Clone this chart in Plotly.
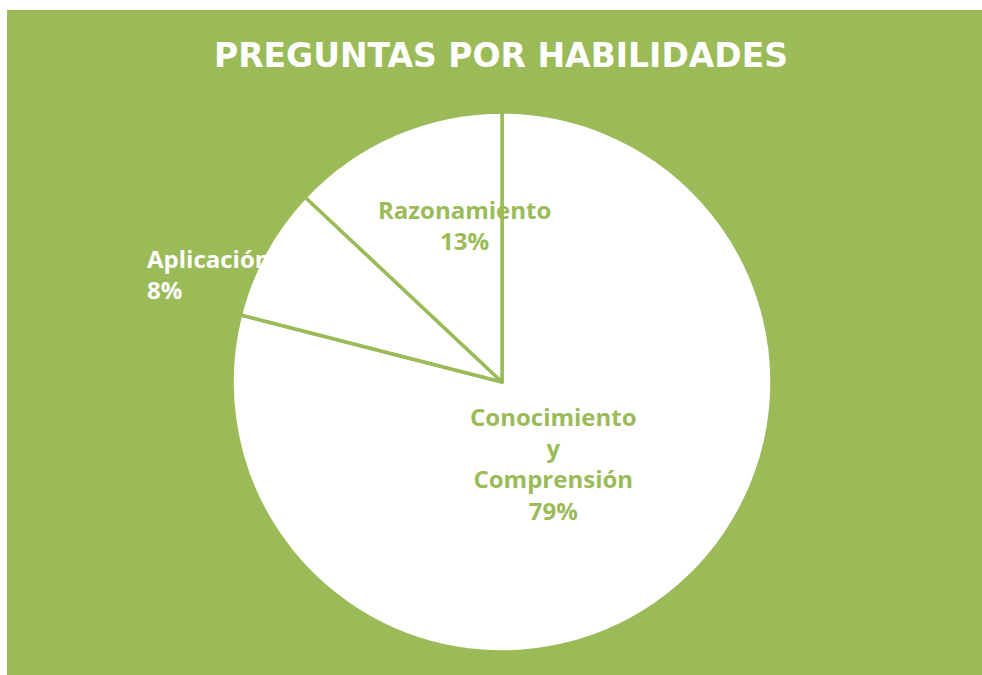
import math
import plotly.graph_objects as go

# ---- data ----
categories = ["Conocimiento<br>y<br>Comprensión", "Aplicación", "Razonamiento"]
values = [79, 8, 13]
title_text = "PREGUNTAS POR HABILIDADES"

GREEN = "#9BBB59"
W, H = 982, 675

# pie geometry (pixels)
cx, cy, R = 502, 382, 270

fig = go.Figure()
fig.add_trace(go.Pie(
    labels=categories,
    values=values,
    sort=False,
    direction="clockwise",
    rotation=0,
    marker=dict(colors=["white"] * 3, line=dict(color=GREEN, width=3.5)),
    textinfo="none",
    hoverinfo="label+percent",
    showlegend=False,
    domain=dict(x=[(cx - R) / W, (cx + R) / W],
                y=[(H - cy - R) / H, (H - cy + R) / H]),
))

# label placement style: radius factor, pixel shifts, anchor, colour
label_style = [
    dict(f=0.36, dx=-8, dy=5, xanchor="center", align="center", color=GREEN),
    dict(f=1.0, dx=8, dy=22, xanchor="right", align="left", color="white"),
    dict(f=0.60, dx=27, dy=-8, xanchor="center", align="center", color=GREEN),
]

total = sum(values)
cum = 0
for cat, v, st in zip(categories, values, label_style):
    mid = (cum + v / 2) / total * 2 * math.pi
    cum += v
    px = cx + st["f"] * R * math.sin(mid) + st["dx"]
    py = cy - st["f"] * R * math.cos(mid) + st["dy"]
    pct = round(v / total * 100)
    fig.add_annotation(
        x=px / W, y=1 - py / H, xref="paper", yref="paper",
        text=f"{cat}<br>{pct}%", showarrow=False,
        xanchor=st["xanchor"], yanchor="middle", align=st["align"],
        font=dict(family="Open Sans", size=24, color=st["color"], weight="bold"),
    )

fig.update_layout(
    width=W, height=H,
    margin=dict(l=0, r=0, t=0, b=0),
    paper_bgcolor="white",
    title=dict(text=f"<b>{title_text}</b>", x=501 / W, xanchor="center",
               y=1 - 55 / H, yanchor="middle", xref="paper", yref="paper",
               font=dict(family="DejaVu Sans", size=33, color="white")),
    shapes=[dict(type="rect", xref="paper", yref="paper",
                 x0=7 / W, x1=1, y0=0, y1=1 - 10 / H,
                 fillcolor=GREEN, line=dict(width=0), layer="below")],
)

fig.write_html("out.html",
               config={"displayModeBar": False},
               post_script="document.body.style.margin='0';document.body.style.overflow='hidden';")
